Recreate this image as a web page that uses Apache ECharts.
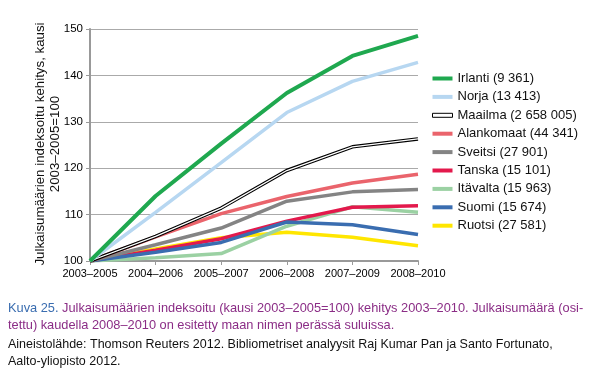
<!DOCTYPE html>
<html><head><meta charset="utf-8">
<script src="https://cdn.jsdelivr.net/npm/echarts@6/dist/echarts.min.js"></script>
<style>html,body{margin:0;padding:0;background:#fff}#c{width:591px;height:371px}</style>
</head><body><div id="c"></div>
<script>
const categories = ['2003–2005','2004–2006','2005–2007','2006–2008','2007–2009','2008–2010'];
const yTicks = [100,110,120,130,140,150];
const irlanti    = [100, 114.0, 125.3, 136.2, 144.2, 148.5];
const norja      = [100, 110.5, 121.2, 132.0, 138.7, 142.8];
const maailma    = [100, 105.3, 111.4, 119.5, 124.6, 126.3];
const alankomaat = [100, 105.2, 110.2, 113.9, 116.8, 118.7];
const sveitsi    = [100, 103.5, 107.1, 112.9, 114.9, 115.4];
const tanska     = [100, 102.3, 104.8, 108.6, 111.6, 111.9];
const itavalta   = [100, 100.7, 101.6, 107.5, 111.7, 110.5];
const suomi      = [100, 101.9, 104.0, 108.4, 107.8, 105.7];
const ruotsi     = [100, 102.6, 105.0, 106.2, 105.1, 103.3];
const names = ['Irlanti (9 361)','Norja (13 413)','Maailma (2 658 005)','Alankomaat (44 341)','Sveitsi (27 901)','Tanska (15 101)','Itävalta (15 963)','Suomi (15 674)','Ruotsi (27 581)'];
const yName = 'Julkaisumäärien indeksoitu kehitys, kausi\n2003–2005=100';

const FONT = "'Liberation Sans Narrow','Arial Narrow','Liberation Sans',sans-serif";
function line(name, data, color, width, z) {
  return {name, type:'line', data, symbol:'none', z: z||2, lineStyle:{color, width}, itemStyle:{color}};
}
const chart = echarts.init(document.getElementById('c'));
chart.setOption({
  animation:false,
  textStyle:{fontFamily:FONT},
  grid:{left:90, right:173, top:29, bottom:110},
  legend:{
    orient:'vertical', left:427, top:67, itemGap:5.4, itemWidth:20, itemHeight:4,
    icon:'rect',
    textStyle:{fontFamily:FONT, fontSize:13, color:'#111'},
    data: names.map((n,i)=> i===2 ? {name:n, icon:'rect', itemStyle:{color:'#fff', borderColor:'#000', borderWidth:1}} : {name:n})
  },
  xAxis:{
    type:'category', data:categories, boundaryGap:false,
    axisLine:{lineStyle:{color:'#999', width:2}},
    axisTick:{show:true, length:4, lineStyle:{color:'#999', width:1}},
    axisLabel:{color:'#000', fontSize:11, fontFamily:FONT, margin:7, interval:0}
  },
  yAxis:{
    type:'value', min:100, max:150, interval:10,
    axisLine:{show:true, lineStyle:{color:'#999', width:2}},
    axisTick:{show:true, length:4, lineStyle:{color:'#999'}},
    axisLabel:{color:'#000', fontSize:11.5, fontFamily:FONT, margin:7},
    splitLine:{lineStyle:{color:'#aaa', width:1}}
  },
  series:[
    line(names[8], ruotsi, '#ffe600', 3.5, 2),
    line(names[6], itavalta, '#9bd1a3', 3.5, 3),
    line(names[5], tanska, '#e3194c', 3.5, 4),
    line(names[7], suomi, '#3a6db0', 3.5, 5),
    line(names[4], sveitsi, '#848484', 3.5, 6),
    line(names[3], alankomaat, '#ea646c', 3.5, 7),
    line(names[2], maailma, '#000', 3.5, 8),
    {name:'maailma-inner', type:'line', data:maailma, symbol:'none', z:9, lineStyle:{color:'#fff', width:1.3}, silent:true},
    line(names[1], norja, '#b7d7f1', 3.5, 10),
    line(names[0], irlanti, '#1fa84f', 4, 11)
  ],
  graphic:[
    {type:'text', x:48, y:144, rotation:Math.PI/2, style:{fontFamily:FONT, fontSize:13.3, lineHeight:15, fill:'#111',
      align:'center', verticalAlign:'middle', text:yName}},
    {type:'text', left:8, top:300, style:{fontFamily:FONT, fontSize:12.8, lineHeight:17, fill:'#8b2d86',
      rich:{b:{fill:'#3a6db0', fontFamily:FONT, fontSize:12.8}, p:{fill:'#8b2d86', fontFamily:FONT, fontSize:12.8}},
      text:'{b|Kuva 25.} {p|Julkaisumäärien indeksoitu (kausi 2003–2005=100) kehitys 2003–2010. Julkaisumäärä (osi-}\n{p|tettu) kaudella 2008–2010 on esitetty maan nimen perässä suluissa.}'}},
    {type:'text', left:8, top:336, style:{fontFamily:FONT, fontSize:12.5, lineHeight:17, fill:'#111',
      text:'Aineistolähde: Thomson Reuters 2012. Bibliometriset analyysit Raj Kumar Pan ja Santo Fortunato,\nAalto-yliopisto 2012.'}}
  ]
});
</script></body></html>
